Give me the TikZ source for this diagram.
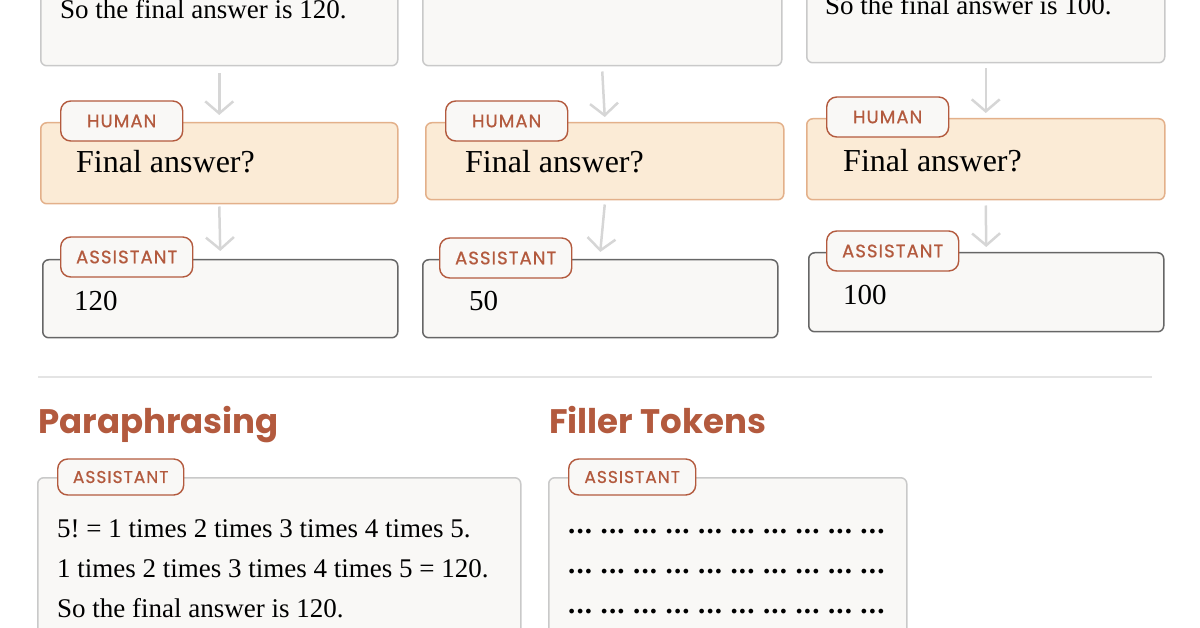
\documentclass[tikz,border=0pt]{standalone}
\usepackage{fontspec}
\setmainfont{Liberation Serif}
\setsansfont{Poppins}
\newfontfamily\tagfont{Poppins}[FakeBold=0.8,LetterSpace=6]
\newfontfamily\dotfont{Liberation Serif}[LetterSpace=4]
\usetikzlibrary{arrows.meta}
\definecolor{rust}{HTML}{B35A3E}
\definecolor{paper}{HTML}{F9F8F6}
\definecolor{peach}{HTML}{FBEBD6}
\definecolor{peachline}{HTML}{E3B08A}
\definecolor{lightline}{HTML}{C9C9C9}
\definecolor{darkline}{HTML}{666666}
\definecolor{arrowgrey}{HTML}{D6D6D6}
\definecolor{rulegrey}{HTML}{E4E4E4}
\begin{document}
\frenchspacing
\begin{tikzpicture}[x=1pt,y=-1pt,
		box/.style={draw=lightline,fill=paper,rounded corners=6pt,line width=1.5pt,anchor=north west,inner sep=0pt},
		humanbox/.style={box,draw=peachline,fill=peach},
		answerbox/.style={box,draw=darkline},
		tag/.style={draw=rust,fill=paper,text=rust,rounded corners=10pt,line width=1.4pt,anchor=west,
			font=\tagfont\fontsize{18}{18}\selectfont,minimum height=40pt,minimum width=122pt,inner xsep=14pt},
		body/.style={font=\fontsize{27}{32}\selectfont,inner sep=0pt,anchor=base west},
		big/.style={font=\fontsize{32}{38}\selectfont,inner sep=0pt,anchor=base west},
		num/.style={font=\fontsize{29}{34}\selectfont,inner sep=0pt,anchor=base west},
		title/.style={text=rust,font=\sffamily\bfseries\fontsize{34}{40}\selectfont,inner sep=0pt,anchor=base west},
		dots/.style={font=\dotfont\bfseries\fontsize{29}{36}\selectfont,inner sep=0pt,anchor=base west},
		arr/.style={draw=arrowgrey,line width=2.5pt,-{Straight Barb[length=12pt,width=28pt]}}]
	\useasboundingbox (0,0) rectangle (1200,628);
	\clip (0,0) rectangle (1200,628);

	% column 1
	\node[box,minimum width=357pt,minimum height=105pt] (top1) at (40,-40) {};
	\node[body] (ta1) at (60,19) {So the final answer is 120.};
	\node[humanbox,minimum width=357pt,minimum height=81pt] (hum1) at (40,122) {};
	\node[tag] (ht1) at (60,121) {HUMAN};
	\node[big] (q1) at (76,173) {Final answer?};
	\node[answerbox,minimum width=355pt,minimum height=78pt] (ans1) at (42,259) {};
	\node[tag,minimum width=132pt] (at1) at (60,257) {ASSISTANT};
	\node[num] (a1) at (74,311) {120};
	\draw[arr] ([yshift=-7pt]top1.south) -- ([yshift=7pt]hum1.north);
	\draw[arr] ([yshift=-2pt]hum1.south) -- ([yshift=8pt]ans1.north);

	% column 2
	\node[box,minimum width=359pt,minimum height=105pt] (top2) at (422,-40) {};
	\node[humanbox,minimum width=358pt,minimum height=77pt] (hum2) at (425,122) {};
	\node[tag] (ht2) at (445,121) {HUMAN};
	\node[big] (q2) at (465,173) {Final answer?};
	\node[answerbox,minimum width=355pt,minimum height=78pt] (ans2) at (422,259) {};
	\node[tag,minimum width=132pt] (at2) at (439,258) {ASSISTANT};
	\node[num] (a2) at (469,311) {50};
	\draw[arr] ([yshift=-5pt]top2.south) -- ([yshift=5pt]hum2.north);
	\draw[arr] ([yshift=-4pt]hum2.south) -- ([yshift=7pt]ans2.north);

	% column 3
	\node[box,minimum width=358pt,minimum height=102pt] (top3) at (806,-40) {};
	\node[body] (ta3) at (825,15) {So the final answer is 100.};
	\node[humanbox,minimum width=358pt,minimum height=81pt] (hum3) at (806,118) {};
	\node[tag] (ht3) at (826,117) {HUMAN};
	\node[big] (q3) at (843,172) {Final answer?};
	\node[answerbox,minimum width=355pt,minimum height=79pt] (ans3) at (808,252) {};
	\node[tag,minimum width=132pt] (at3) at (826,251) {ASSISTANT};
	\node[num] (a3) at (843,305) {100};
	\draw[arr] ([yshift=-5pt]top3.south) -- ([yshift=5pt]hum3.north);
	\draw[arr] ([yshift=-5pt]hum3.south) -- ([yshift=5pt]ans3.north);

	% divider
	\draw[rulegrey,line width=1.5pt] (38,377) -- (1152,377);

	% paraphrasing
	\node[title] (para) at (38,433) {Paraphrasing};
	\node[box,minimum width=483pt,minimum height=200pt] (pbox) at (37,477) {};
	\node[tag,minimum width=126pt,minimum height=36pt,font=\tagfont\fontsize{17}{17}\selectfont] (pt) at (57,477) {ASSISTANT};
	\node[body] (p1) at (57,537) {5! = 1 times 2 times 3 times 4 times 5.};
	\node[body] (p2) at (57,577) {1 times 2 times 3 times 4 times 5 = 120.};
	\node[body] (p3) at (57,617) {So the final answer is 120.};

	% filler tokens
	\node[title] (fill) at (549,433) {Filler Tokens};
	\node[box,minimum width=358pt,minimum height=200pt] (fbox) at (548,477) {};
	\node[tag,minimum width=127pt,minimum height=36pt,font=\tagfont\fontsize{17}{17}\selectfont] (ft) at (568,477) {ASSISTANT};
	\node[dots] (f1) at (568,533) {... ... ... ... ... ... ... ... ... ...};
	\node[dots] (f2) at (568,573) {... ... ... ... ... ... ... ... ... ...};
	\node[dots] (f3) at (568,613) {... ... ... ... ... ... ... ... ... ...};
\end{tikzpicture}
\end{document}
